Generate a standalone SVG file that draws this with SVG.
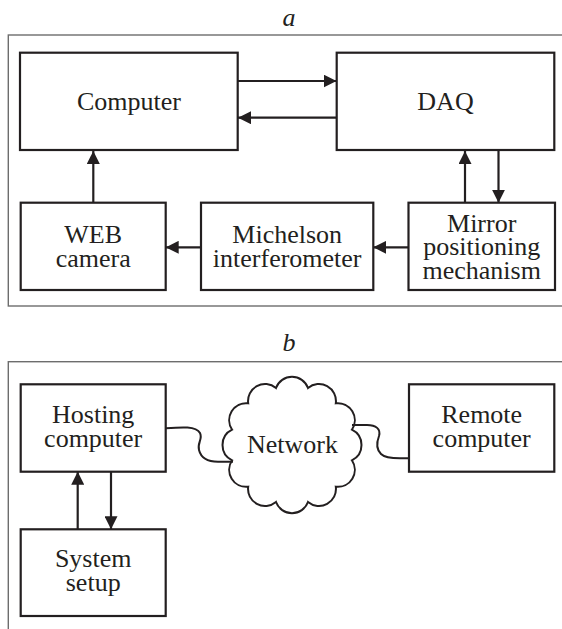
<svg xmlns="http://www.w3.org/2000/svg" width="562" height="629" viewBox="0 0 562 629">
<defs>
<marker id="ah" markerUnits="userSpaceOnUse" markerWidth="13" markerHeight="13" refX="13" refY="6.5" orient="auto">
<path d="M0,0 L13,6.5 L0,13 z" fill="#231f20"/>
</marker>
<style>
.frame{fill:none;stroke:#6d6d6d;stroke-width:1.4}
.box{fill:#fff;stroke:#231f20;stroke-width:2.2}
.t{font-family:"Liberation Serif","Times New Roman",serif;font-size:26px;fill:#231f20;text-anchor:middle}
.lbl{font-family:"Liberation Serif","Times New Roman",serif;font-size:26px;font-style:italic;fill:#231f20;text-anchor:middle}
.a{fill:none;stroke:#231f20;stroke-width:2.2;marker-end:url(#ah)}
.w{fill:none;stroke:#231f20;stroke-width:2}
</style>
</defs>
<rect width="562" height="629" fill="#fff"/>
<text class="lbl" x="289" y="26">a</text>
<rect class="frame" x="8.3" y="35" width="560" height="271"/>
<text class="lbl" x="289" y="351">b</text>
<rect class="frame" x="8.3" y="361.7" width="560" height="280"/>

<g id="connectors">
<line class="a" x1="238" y1="81" x2="336.5" y2="81"/>
<line class="a" x1="336.5" y1="117.7" x2="238" y2="117.7"/>
<line class="a" x1="93.3" y1="202.7" x2="93.3" y2="151"/>
<line class="a" x1="201" y1="247.3" x2="165.7" y2="247.3"/>
<line class="a" x1="408.5" y1="247.3" x2="373.3" y2="247.3"/>
<line class="a" x1="465" y1="202.7" x2="465" y2="151"/>
<line class="a" x1="498.5" y1="151" x2="498.5" y2="202.7"/>
<line class="a" x1="77.7" y1="529.3" x2="77.7" y2="471.7"/>
<line class="a" x1="111" y1="471.7" x2="111" y2="529.3"/>
<path class="w" d="M165.7,428.3 C182,427 196,426 200,433 C203,439 197,443 199,450 C201,458 208,461.7 218,461.7 L233,461.7"/>
<path class="w" d="M352,425 L367,425 C376,425 381,429 379,436 C376,444 377,450 381,454 C385,458 392,458.3 400,458.3 L409,458.3"/>
</g>

<g id="computer">
<rect class="box" x="20" y="52.7" width="217.7" height="97.3"/>
<text class="t" x="128.9" y="110">Computer</text>
</g>
<g id="daq">
<rect class="box" x="336.7" y="52.7" width="217.6" height="97.3"/>
<text class="t" x="445.5" y="110">DAQ</text>
</g>
<g id="webcam">
<rect class="box" x="20.7" y="202.7" width="145" height="87.3"/>
<text class="t" x="93.2" y="243">WEB<tspan x="93.2" dy="23.8">camera</tspan></text>
</g>
<g id="michelson">
<rect class="box" x="201" y="202.7" width="172.3" height="87.3"/>
<text class="t" x="287.2" y="243">Michelson<tspan x="287.2" dy="23.8">interferometer</tspan></text>
</g>
<g id="mirror">
<rect class="box" x="408.5" y="202.7" width="146.5" height="87.3"/>
<text class="t" x="481.7" y="231.5">Mirror<tspan x="481.7" dy="23.3">positioning</tspan><tspan x="481.7" dy="23.7">mechanism</tspan></text>
</g>

<g id="hosting">
<rect class="box" x="20.7" y="384.3" width="145" height="87.4"/>
<text class="t" x="93.2" y="423">Hosting<tspan x="93.2" dy="23.8">computer</tspan></text>
</g>
<g id="remote">
<rect class="box" x="409" y="384.3" width="145.3" height="87.4"/>
<text class="t" x="481.7" y="423">Remote<tspan x="481.7" dy="23.8">computer</tspan></text>
</g>
<g id="system">
<rect class="box" x="20.7" y="529.3" width="145" height="86.7"/>
<text class="t" x="93.2" y="567">System<tspan x="93.2" dy="23.5">setup</tspan></text>
</g>
<g id="network">
<path class="w" fill="#fff" d="M276,388 A17,17 0 0 1 308,388 A17,17 0 0 1 335.8,403.3 A17,17 0 0 1 351.9,429.7 A17,17 0 0 1 351.9,460.3 A17,17 0 0 1 335.8,486.7 A17,17 0 0 1 308,502 A17,17 0 0 1 276,502 A17,17 0 0 1 248.2,486.7 A17,17 0 0 1 232.1,460.3 A17,17 0 0 1 232.1,429.7 A17,17 0 0 1 248.2,403.3 A17,17 0 0 1 276,388 Z"/>
<text class="t" x="292.5" y="453.3">Network</text>
</g>
</svg>
